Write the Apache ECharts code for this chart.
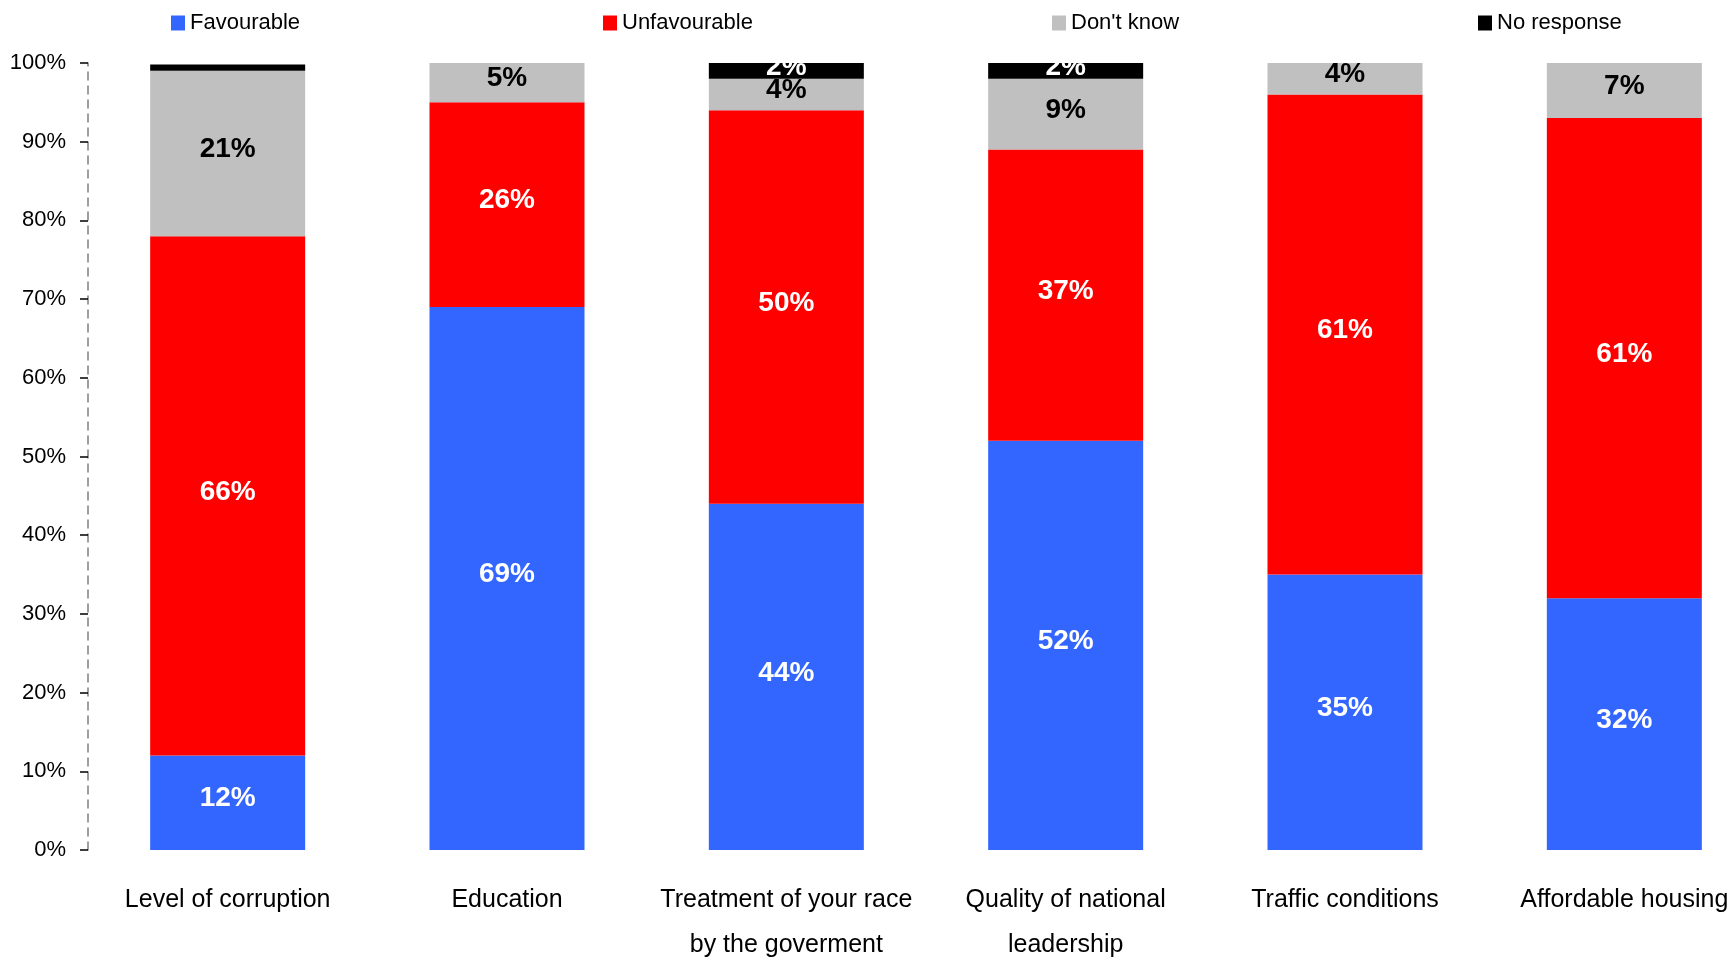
<!DOCTYPE html>
<html>
<head>
<meta charset="utf-8">
<script src="https://cdn.jsdelivr.net/npm/echarts@6/dist/echarts.min.js"></script>
<style>
html,body{margin:0;padding:0;background:#fff;overflow:hidden;}
#chart{width:1736px;height:961px;}
</style>
</head>
<body>
<div id="chart"></div>
<script>
const categories = ['Level of corruption', 'Education', 'Treatment of your race\nby the goverment', 'Quality of national\nleadership', 'Traffic conditions', 'Affordable housing'];
const favourable = [12, 69, 44, 52, 35, 32];
const unfavourable = [66, 26, 50, 37, 61, 61];
const dontKnow = [21, 5, 4, 9, 4, 7];
const noResponse = [0.8, 0, 2, 2, 0, 0];
const yTicks = [0, 10, 20, 30, 40, 50, 60, 70, 80, 90, 100];

const FONT = '"Liberation Sans Narrow", "Arial Narrow", "Liberation Sans", Arial, sans-serif';
const colors = { fav: '#3366FF', unfav: '#FF0000', dk: '#C0C0C0', nr: '#000000' };

function mkSeries(name, data, color, labelColor, minShow) {
  return {
    name: name,
    type: 'bar',
    stack: 'total',
    barWidth: 155,
    data: data.map(v => ({
      value: v,
      label: { show: v >= minShow }
    })),
    itemStyle: { color: color },
    label: {
      show: true,
      position: 'inside',
      offset: [0, -4],
      color: labelColor,
      fontFamily: FONT,
      fontWeight: 'bold',
      fontSize: 28,
      formatter: p => Math.round(p.value) + '%'
    },
    emphasis: { disabled: true }
  };
}

const chart = echarts.init(document.getElementById('chart'), null, { renderer: 'canvas' });
const legendCommon = {
  top: 7,
  itemWidth: 14,
  itemHeight: 15,
  itemGap: 5,
  textStyle: { fontFamily: FONT, fontSize: 22, color: '#000' },
  icon: 'rect',
  selectedMode: false
};
chart.setOption({
  animation: false,
  backgroundColor: '#fff',
  legend: [
    Object.assign({}, legendCommon, { left: 166, data: ['Favourable'] }),
    Object.assign({}, legendCommon, { left: 598, data: ['Unfavourable'] }),
    Object.assign({}, legendCommon, { left: 1047, data: ["Don't know"] }),
    Object.assign({}, legendCommon, { left: 1473, data: ['No response'] })
  ],
  grid: { left: 88, top: 63, width: 1676, height: 787, containLabel: false, outerBoundsMode: 'none' },
  xAxis: {
    type: 'category',
    data: categories,
    axisLine: { show: false },
    axisTick: { show: false },
    axisLabel: {
      interval: 0,
      margin: 28,
      fontFamily: FONT,
      fontSize: 25,
      lineHeight: 45,
      color: '#000',
      verticalAlign: 'top',
      hideOverlap: false
    }
  },
  yAxis: {
    type: 'value',
    min: 0,
    max: 100,
    interval: 10,
    splitLine: { show: false },
    axisLine: { show: true, lineStyle: { color: '#808080', type: [8, 6], width: 1.5 } },
    axisTick: { show: true, inside: false, length: 8, lineStyle: { color: '#000', width: 1.5 } },
    axisLabel: {
      margin: 22,
      fontFamily: FONT,
      fontSize: 22,
      color: '#000',
      formatter: v => yTicks.includes(v) ? v + '%' : ''
    }
  },
  series: [
    mkSeries('Favourable', favourable, colors.fav, '#fff', 1),
    mkSeries('Unfavourable', unfavourable, colors.unfav, '#fff', 1),
    mkSeries("Don't know", dontKnow, colors.dk, '#000', 1),
    mkSeries('No response', noResponse, colors.nr, '#fff', 1.5)
  ]
});
</script>
</body>
</html>
